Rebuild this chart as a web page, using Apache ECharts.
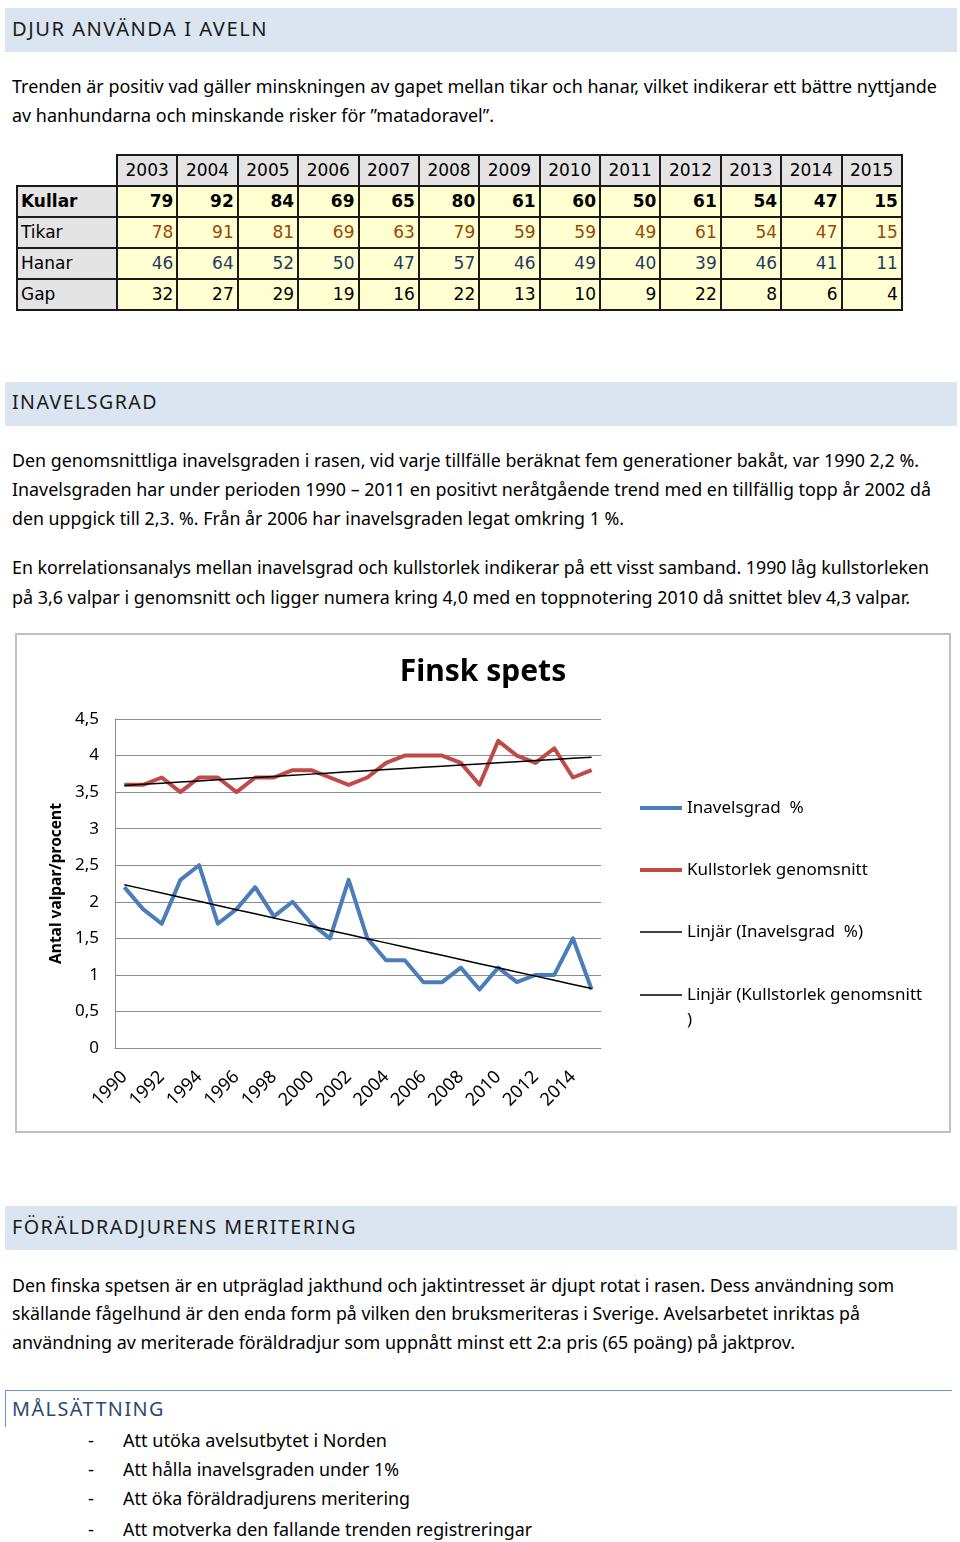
<!DOCTYPE html>
<html><head><meta charset="utf-8">
<script src="https://cdn.jsdelivr.net/npm/echarts@6/dist/echarts.min.js"></script>
<style>
body{margin:0;width:960px;height:1542px;position:relative;background:#fff;font-family:"Noto Sans",sans-serif;overflow:hidden;color:#000}
.bar{position:absolute;left:5px;width:952px;height:44px;background:#dbe5f1}
.t{position:absolute;white-space:nowrap;transform-origin:0 50%;line-height:26px;height:26px}
#tbl{position:absolute;left:16px;top:154px;border-collapse:collapse;font-family:"DejaVu Sans",sans-serif;font-size:17px;table-layout:fixed;width:885px}
#tbl td{border:2px solid #1a1a1a;height:29px;padding:0 3px;text-align:right;background:#ffffd2;line-height:29px}
#tbl tr.hd td{background:#e4e4e4}
#tbl td.lab{background:#e4e4e4;text-align:left}
#tbl tr.hd td.empty{background:#fff;border-top:hidden;border-left:hidden}
#chart{position:absolute;left:15px;top:633px;width:936px;height:500px;border:2px solid #c0c0c0;box-sizing:border-box}
#mal{position:absolute;left:5px;top:1390px;width:946px;height:36px;border-top:1.5px solid #6f95c3;border-left:1.5px solid #6f95c3}
</style>
</head><body>
<div class="bar" style="top:8px"></div>
<div class="bar" style="top:382px"></div>
<div class="bar" style="top:1206px"></div>
<div id="mal"></div>
<table id="tbl"></table>
<div id="chart"></div>
<script>
// ---- table data ----
const tableYears = ['2003','2004','2005','2006','2007','2008','2009','2010','2011','2012','2013','2014','2015'];
const kullar = [79,92,84,69,65,80,61,60,50,61,54,47,15];
const tikar  = [78,91,81,69,63,79,59,59,49,61,54,47,15];
const hanar  = [46,64,52,50,47,57,46,49,40,39,46,41,11];
const gap    = [32,27,29,19,16,22,13,10,9,22,8,6,4];

// ---- chart data ----
const years = ['1990','1991','1992','1993','1994','1995','1996','1997','1998','1999','2000','2001','2002','2003','2004','2005','2006','2007','2008','2009','2010','2011','2012','2013','2014','2015'];
const inavelsgrad = [2.2,1.9,1.7,2.3,2.5,1.7,1.9,2.2,1.8,2.0,1.7,1.5,2.3,1.5,1.2,1.2,0.9,0.9,1.1,0.8,1.1,0.9,1.0,1.0,1.5,0.8];
const kullstorlek = [3.6,3.6,3.7,3.5,3.7,3.7,3.5,3.7,3.7,3.8,3.8,3.7,3.6,3.7,3.9,4.0,4.0,4.0,3.9,3.6,4.2,4.0,3.9,4.1,3.7,3.8];

// build table
(function(){
  const tbl = document.getElementById('tbl');
  let html = '<colgroup><col style="width:100px">' + tableYears.map(()=>'<col style="width:60.38px">').join('') + '</colgroup>';
  html += '<tr class="hd"><td class="empty"></td>' + tableYears.map(y=>'<td style="text-align:center;padding:0">'+y+'</td>').join('') + '</tr>';
  const rows = [['Kullar',kullar,'#000','bold'],['Tikar',tikar,'#984807','normal'],['Hanar',hanar,'#1f3a60','normal'],['Gap',gap,'#000','normal']];
  rows.forEach(r=>{
    html += '<tr><td class="lab" style="font-weight:'+r[3]+'">'+r[0]+'</td>' + r[1].map(v=>'<td style="color:'+r[2]+';font-weight:'+r[3]+'">'+v+'</td>').join('') + '</tr>';
  });
  tbl.innerHTML = html;
})();

// text lines
const lines = [
  ['DJUR ANVÄNDA I AVELN',12,29,268,20,'#1a1a1a',1.5],
  ['Trenden är positiv vad gäller minskningen av gapet mellan tikar och hanar, vilket indikerar ett bättre nyttjande',12,86,937,18,'#000',0],
  ['av hanhundarna och minskande risker för ”matadoravel”.',12,115,494,18,'#000',0],
  ['INAVELSGRAD',12,402,158,20,'#1a1a1a',1.5],
  ['Den genomsnittliga inavelsgraden i rasen, vid varje tillfälle beräknat fem generationer bakåt, var 1990 2,2 %.',12,460,919,18,'#000',0],
  ['Inavelsgraden har under perioden 1990 – 2011 en positivt neråtgående trend med en tillfällig topp år 2002 då',12,489,931,18,'#000',0],
  ['den uppgick till 2,3. %. Från år 2006 har inavelsgraden legat omkring 1 %.',12,518,624,18,'#000',0],
  ['En korrelationsanalys mellan inavelsgrad och kullstorlek indikerar på ett visst samband. 1990 låg kullstorleken',12,567,929,18,'#000',0],
  ['på 3,6 valpar i genomsnitt och ligger numera kring 4,0 med en toppnotering 2010 då snittet blev 4,3 valpar.',12,597,910,18,'#000',0],
  ['FÖRÄLDRADJURENS MERITERING',12,1227,357,20,'#1a1a1a',1.5],
  ['Den finska spetsen är en utpräglad jakthund och jaktintresset är djupt rotat i rasen. Dess användning som',12,1285,894,18,'#000',0],
  ['skällande fågelhund är den enda form på vilken den bruksmeriteras i Sverige. Avelsarbetet inriktas på',12,1313,860,18,'#000',0],
  ['användning av meriterade föräldradjur som uppnått minst ett 2:a pris (65 poäng) på jaktprov.',12,1342,795,18,'#000',0],
  ['MÅLSÄTTNING',12,1409,165,20,'#2b4a72',1.5],
  ['-',88,1440,94,18,'#000',0],
  ['Att utöka avelsutbytet i Norden',123,1440,387,18,'#000',0],
  ['-',88,1469,94,18,'#000',0],
  ['Att hålla inavelsgraden under 1%',123,1469,399,18,'#000',0],
  ['-',88,1498,94,18,'#000',0],
  ['Att öka föräldradjurens meritering',123,1498,410,18,'#000',0],
  ['-',88,1529,94,18,'#000',0],
  ['Att motverka den fallande trenden registreringar',123,1529,532,18,'#000',0]
];
lines.forEach(l=>{
  const d = document.createElement('div');
  d.className = 't';
  d.textContent = l[0];
  d.style.left = l[1]+'px';
  d.style.top = (l[2]-13)+'px';
  d.style.fontSize = l[4]+'px';
  d.style.color = l[5];
  d.style.letterSpacing = l[6]+'px';
  document.body.appendChild(d);
  const w = d.getBoundingClientRect().width;
  const target = l[3]-l[1];
  if (w > 0) d.style.transform = 'scaleX(' + (target/w) + ')';
});

// linear trend (least squares) from the data
function trend(arr){
  const n = arr.length; let sx=0,sy=0,sxy=0,sxx=0;
  arr.forEach((v,i)=>{sx+=i;sy+=v;sxy+=i*v;sxx+=i*i;});
  const b = (n*sxy - sx*sy)/(n*sxx - sx*sx);
  const a = (sy - b*sx)/n;
  return arr.map((v,i)=>+(a+b*i).toFixed(4));
}

const chart = echarts.init(document.getElementById('chart'), null, {renderer:'canvas'});
const FONT = '"Noto Sans", sans-serif';
const NB = 'Inavelsgrad  %', NR = 'Kullstorlek genomsnitt', NT1 = 'Linjär (Inavelsgrad  %)', NT2 = 'Linjär (Kullstorlek genomsnitt\n)';
function leg(name, top, h, fmt){
  return {
    show:true, orient:'vertical', left:623, top:top, padding:0,
    itemWidth:42, itemHeight:h, itemGap:5, icon:'rect',
    data:[{name:name, icon:'rect'}],
    formatter: fmt || (n=>n),
    textStyle:{fontSize:17, color:'#000', fontFamily:FONT, lineHeight:25},
    selectedMode:false
  };
}
chart.setOption({
  animation:false,
  title:{text:'Finsk spets', left:'center', top:19, padding:0,
    textStyle:{fontSize:30, fontWeight:'bold', color:'#000', fontFamily:FONT, lineHeight:36}},
  legend:[
    leg(NB, 160.5, 4),
    leg(NR, 222.5, 4),
    leg(NT1, 284.5, 1.5),
    leg(NT2, 322.5, 1.5, n=>'\u00a0\n'+n)
  ],
  grid:{left:98, top:84, width:486, height:329, containLabel:false},
  xAxis:{type:'category', data:years, boundaryGap:true,
    axisLine:{lineStyle:{color:'#8c8c8c', width:1}},
    axisTick:{show:false},
    axisLabel:{interval:1, rotate:45, fontSize:18, color:'#000', fontFamily:FONT, margin:26}
  },
  yAxis:{type:'value', min:0, max:4.5, interval:0.5,
    name:'Antal valpar/procent', nameLocation:'middle', nameRotate:90, nameGap:50,
    nameTextStyle:{fontSize:15.5, fontWeight:'bold', color:'#000', fontFamily:FONT},
    axisLine:{show:true, lineStyle:{color:'#8c8c8c', width:1}},
    axisTick:{show:false},
    splitLine:{lineStyle:{color:'#8c8c8c', width:1}},
    axisLabel:{fontSize:17, color:'#000', fontFamily:FONT, margin:16,
      formatter:v=>String(v).replace('.',',')}
  },
  series:[
    {name:NB, type:'line', data:inavelsgrad, symbol:'none', color:'#4a7ebb',
      lineStyle:{width:4, color:'#4a7ebb', join:'round'}, z:2},
    {name:NR, type:'line', data:kullstorlek, symbol:'none', color:'#be4b48',
      lineStyle:{width:4, color:'#be4b48', join:'round'}, z:2},
    {name:NT1, type:'line', data:trend(inavelsgrad), symbol:'none', color:'#000',
      lineStyle:{width:1.5, color:'#000'}, z:3},
    {name:NT2, type:'line', data:trend(kullstorlek), symbol:'none', color:'#000',
      lineStyle:{width:1.5, color:'#000'}, z:3}
  ]
});
</script>
</body></html>
